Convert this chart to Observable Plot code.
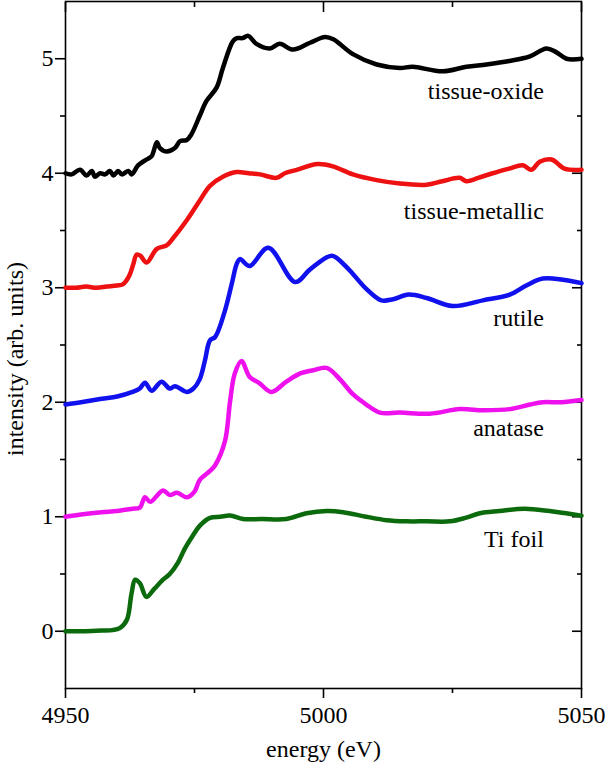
<!DOCTYPE html>
<html>
<head>
<meta charset="utf-8">
<script src="https://cdn.jsdelivr.net/npm/d3@7"></script>
<script src="https://cdn.jsdelivr.net/npm/@observablehq/plot@0.6"></script>
<style>
  html, body { margin: 0; padding: 0; background: #fff; }
  #chart { width: 607px; height: 762px; }
  #chart svg { font-family: "Liberation Serif", "Times New Roman", serif; font-size: 24px; color: #000; background: #fff; }
</style>
</head>
<body>
<div id="chart"></div>
<script>
// ---- data (energy eV, intensity arb. units) ----
const tissueOxide = [
  [4950,4.00],[4951.2,3.99],[4952.8,4.03],[4954.1,3.98],[4955.1,4.02],[4955.7,3.97],[4956.7,4.00],
  [4957.7,3.99],[4958.6,4.02],[4959.3,3.98],[4960.2,4.02],[4960.9,3.99],[4962.2,4.02],[4962.8,3.99],
  [4964.1,4.07],[4965.7,4.12],[4966.7,4.15],[4967.7,4.27],[4968.3,4.22],[4969.6,4.19],[4971.2,4.22],
  [4972.2,4.28],[4973.5,4.29],[4974.4,4.34],[4976.0,4.50],[4977.3,4.63],[4979.3,4.75],[4980.5,4.92],
  [4982.4,5.15],[4983.2,5.18],[4984.3,5.18],[4985.4,5.20],[4987.0,5.13],[4989.6,5.09],[4991.5,5.13],
  [4994.1,5.08],[4997.4,5.14],[5000.3,5.19],[5001.9,5.17],[5005.7,5.04],[5010.3,4.95],[5014.8,4.92],
  [5017.3,4.93],[5023.1,4.89],[5027.7,4.93],[5031.6,4.95],[5036,4.98],[5040.0,5.02],[5043.2,5.09],
  [5045,5.06],[5047.1,5.00],[5050,5.00]
];
const tissueMetallic = [
  [4950,3.00],[4952,3.00],[4954,3.01],[4956,3.00],[4958,3.01],[4960,3.02],[4961.1,3.03],[4962.3,3.10],
  [4963.1,3.20],[4963.8,3.29],[4964.5,3.28],[4965.7,3.22],[4967.7,3.34],[4969.6,3.37],[4970.8,3.43],
  [4973.5,3.59],[4976.0,3.76],[4978.0,3.89],[4980.5,3.97],[4983.2,4.01],[4985.5,4.00],[4987.7,3.99],
  [4990.9,3.96],[4992.5,4.00],[4994.8,4.03],[4998.9,4.08],[5001.8,4.06],[5005.7,3.99],[5010.3,3.94],
  [5014.8,3.91],[5020.0,3.90],[5023.0,3.93],[5026.4,3.96],[5027.7,3.93],[5030.0,3.96],[5032.8,4.00],
  [5036.0,4.04],[5038.6,4.07],[5040.3,4.03],[5041.9,4.10],[5044.2,4.12],[5046.7,4.04],[5050,4.03]
];
const rutile = [
  [4950,1.98],[4953,2.00],[4957,2.03],[4960,2.05],[4963,2.09],[4964.4,2.12],[4965.4,2.17],[4966.7,2.10],
  [4968.6,2.18],[4970.2,2.12],[4971.2,2.14],[4973.5,2.09],[4974.8,2.12],[4976.0,2.20],[4977.0,2.36],
  [4978.0,2.54],[4979.0,2.57],[4980.9,2.80],[4982.2,3.03],[4983.2,3.21],[4983.8,3.25],[4985.7,3.19],
  [4989.3,3.35],[4994.5,3.05],[4997.4,3.16],[5001.6,3.28],[5003.8,3.21],[5005.7,3.12],[5008.3,2.99],
  [5011.2,2.89],[5013.5,2.90],[5016.5,2.94],[5020.0,2.91],[5025.0,2.84],[5030.9,2.89],[5036.1,2.94],
  [5039.3,3.02],[5042.5,3.08],[5046.4,3.07],[5050,3.04]
];
const anatase = [
  [4950,1.00],[4953,1.02],[4957,1.04],[4960,1.05],[4963,1.07],[4964.4,1.08],[4965.4,1.17],[4966.4,1.13],
  [4968.9,1.23],[4970.2,1.19],[4971.6,1.21],[4973.5,1.17],[4975.0,1.22],[4976.0,1.32],[4978.0,1.40],
  [4979.0,1.45],[4980.9,1.66],[4981.9,2.01],[4982.8,2.25],[4984.1,2.36],[4985.7,2.22],[4987.5,2.17],
  [4989.9,2.09],[4992.8,2.18],[4995.4,2.25],[4998.0,2.28],[5000.6,2.30],[5003.2,2.20],[5005.7,2.07],
  [5008.3,1.98],[5010.9,1.91],[5014.8,1.91],[5020.6,1.90],[5026.4,1.94],[5031.0,1.93],[5036.1,1.94],
  [5040.0,1.98],[5042.5,2.00],[5046.0,2.00],[5050,2.02]
];
const tiFoil = [
  [4950,0.00],[4953,0.00],[4956,0.005],[4959,0.01],[4960.6,0.03],[4961.9,0.10],[4962.8,0.33],[4963.5,0.45],
  [4964.4,0.42],[4965.7,0.30],[4967.2,0.37],[4968.9,0.45],[4970.2,0.50],[4971.8,0.60],[4973.1,0.72],
  [4974.6,0.83],[4976.0,0.92],[4978.0,0.99],[4980.0,1.00],[4981.9,1.01],[4984.4,0.98],[4988.0,0.98],
  [4992.8,0.98],[4996.7,1.03],[5000.6,1.05],[5003.8,1.04],[5008.3,1.00],[5012.2,0.97],[5016.0,0.96],
  [5020.0,0.96],[5024.5,0.96],[5027.5,0.99],[5030.3,1.03],[5034.1,1.05],[5039.0,1.07],[5043.8,1.05],
  [5047.0,1.03],[5050,1.01]
];

const seriesNames  = ["tissue-oxide", "tissue-metallic", "rutile", "anatase", "Ti foil"];
const seriesData   = [tissueOxide, tissueMetallic, rutile, anatase, tiFoil];
const seriesColors = ["#000000", "#ee1111", "#1111ee", "#ee11ee", "#0b6a0b"];
const labelEnergy  = 5042.7;
const labelLevels  = [4.715, 3.665, 2.735, 1.776, 0.80];

const xMajorTicks = [4950, 5000, 5050];
const xMinorTicks = [4975, 5025];
const yMajorTicks = [0, 1, 2, 3, 4, 5];
const yMinorTicks = [0.5, 1.5, 2.5, 3.5, 4.5];
const xTitle = "energy (eV)";
const yTitle = "intensity (arb. units)";

// ---- build table ----
const rows = seriesData.flatMap((arr, i) =>
  arr.map(([e, v]) => ({series: seriesNames[i], energy: e, intensity: v})));
const labels = seriesNames.map((n, i) => ({series: n, energy: labelEnergy, intensity: labelLevels[i]}));

const chart = Plot.plot({
  width: 607,
  height: 762,
  marginLeft: 65,
  marginRight: 26,
  marginTop: 1,
  marginBottom: 74,
  style: "font-family: 'Liberation Serif', 'Times New Roman', serif; font-size: 24px; background: #fff; color: #000;",
  x: {domain: [4950, 5050], axis: null},
  y: {domain: [-0.5, 5.5], axis: null},
  color: {domain: seriesNames, range: seriesColors},
  marks: [
    Plot.frame({stroke: "#000", strokeWidth: 1.6}),
    // bottom axis
    Plot.axisX({anchor: "bottom", ticks: xMajorTicks, tickSize: 10, tickPadding: 7, tickFormat: d => String(d), label: null, strokeWidth: 1.6, fontSize: 24}),
    Plot.axisX({anchor: "bottom", ticks: xMinorTicks, tickSize: 5, tickFormat: () => "", label: null, strokeWidth: 1.6}),
    // top axis (inward ticks)
    Plot.axisX({anchor: "top", ticks: xMajorTicks, tickSize: -10, tickFormat: () => "", label: null, strokeWidth: 1.6}),
    Plot.axisX({anchor: "top", ticks: xMinorTicks, tickSize: -5, tickFormat: () => "", label: null, strokeWidth: 1.6}),
    // left axis
    Plot.axisY({anchor: "left", ticks: yMajorTicks, tickSize: 10, tickPadding: 2, tickFormat: d => String(d), label: null, strokeWidth: 1.6, fontSize: 24}),
    Plot.axisY({anchor: "left", ticks: yMinorTicks, tickSize: 5, tickFormat: () => "", label: null, strokeWidth: 1.6}),
    // right axis (inward ticks)
    Plot.axisY({anchor: "right", ticks: yMajorTicks, tickSize: -10, tickFormat: () => "", label: null, strokeWidth: 1.6}),
    Plot.axisY({anchor: "right", ticks: yMinorTicks, tickSize: -5, tickFormat: () => "", label: null, strokeWidth: 1.6}),
    // curves
    Plot.line(rows, {x: "energy", y: "intensity", z: "series", stroke: "series", strokeWidth: 4.5, curve: "catmull-rom", strokeLinejoin: "round", strokeLinecap: "round"}),
    // series labels
    Plot.text(labels, {x: "energy", y: "intensity", text: "series", textAnchor: "end", lineAnchor: "middle", fill: "#000", fontSize: 24}),
    // axis titles
    Plot.text([xTitle], {frameAnchor: "bottom", textAnchor: "middle", lineAnchor: "middle", dy: 61, fontSize: 24, fill: "#000"}),
    Plot.text([yTitle], {frameAnchor: "left", textAnchor: "middle", lineAnchor: "middle", dx: -50, dy: 14, rotate: -90, fontSize: 24, fill: "#000"})
  ]
});
document.getElementById("chart").appendChild(chart);
</script>
</body>
</html>
